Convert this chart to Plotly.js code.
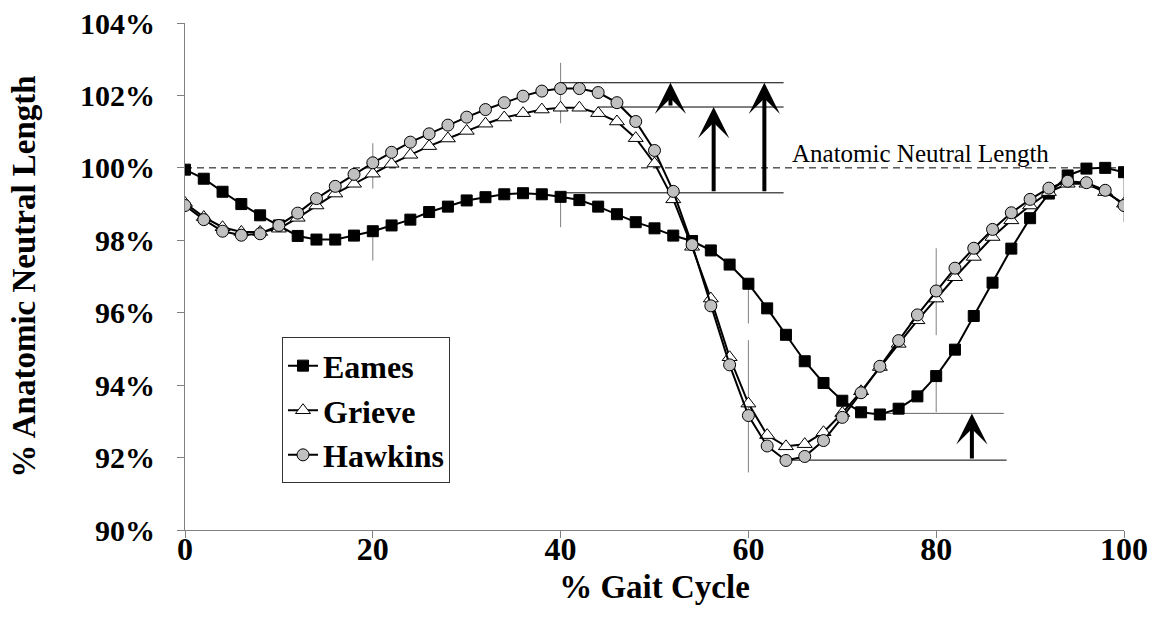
<!DOCTYPE html>
<html>
<head>
<meta charset="utf-8">
<script src="https://cdn.plot.ly/plotly-3.0.1.min.js"></script>
<style>html,body{margin:0;padding:0;background:#fff;}#chart{width:1155px;height:628px;}</style>
</head>
<body>
<div id="chart"></div>
<script>
// % gait cycle (every 2%)
const gait = [0,2,4,6,8,10,12,14,16,18,20,22,24,26,28,30,32,34,36,38,40,42,44,46,48,50,
  52,54,56,58,60,62,64,66,68,70,72,74,76,78,80,82,84,86,88,90,92,94,96,98,100];

// % anatomic neutral length
const eames = [99.95,99.70,99.34,99.00,98.69,98.41,98.12,98.02,98.02,98.13,98.25,98.41,98.57,98.78,98.93,99.10,
  99.19,99.27,99.30,99.27,99.20,99.11,98.93,98.72,98.50,98.33,98.13,97.98,97.72,97.33,96.80,96.12,95.39,94.66,
  94.06,93.57,93.25,93.19,93.35,93.69,94.25,94.98,95.91,96.83,97.77,98.61,99.29,99.79,99.98,100.00,99.88];
const grieve = [99.03,98.64,98.36,98.23,98.23,98.32,98.62,98.96,99.29,99.56,99.84,100.11,100.36,100.60,100.81,101.02,
  101.22,101.39,101.51,101.61,101.66,101.66,101.51,101.28,100.82,100.12,99.13,97.82,96.39,94.77,93.49,92.62,92.31,92.37,
  92.70,93.23,93.83,94.50,95.14,95.79,96.39,96.98,97.54,98.09,98.55,98.96,99.33,99.56,99.56,99.33,99.01];
const hawkins = [98.96,98.57,98.25,98.14,98.18,98.41,98.75,99.15,99.49,99.82,100.14,100.43,100.71,100.94,101.18,101.40,
  101.61,101.80,101.98,102.12,102.19,102.19,102.08,101.80,101.28,100.48,99.35,97.88,96.19,94.56,93.16,92.32,91.92,92.03,
  92.47,93.11,93.79,94.52,95.23,95.94,96.60,97.23,97.78,98.30,98.76,99.13,99.44,99.63,99.59,99.38,98.96];

// variability bars
const errX  = [20, 20, 40, 40, 60, 60, 80, 80, 100];
const errHi = [100.68, 98.25, 102.90, 99.20, 95.24, 96.80, 97.78, 94.25, 99.88];
const errLo = [99.43, 97.44, 101.23, 98.36, 91.59, 95.70, 95.38, 93.25, 98.50];

// reference level lines (peaks / minima)
const levelY  = [102.35, 101.68, 99.31, 93.22, 91.93];
const levelX0 = [40, 44, 40, 74, 64];
const levelX1 = [63.75, 63.75, 63.75, 87.2, 87.5];

// arrows between levels
const arrowX    = [51.7, 56.3, 61.7, 83.8];
const arrowFrom = [101.68, 99.31, 99.31, 91.93];
const arrowTo   = [102.35, 101.68, 102.35, 93.22];

const neutral = 100;
const neutralLabel = 'Anatomic Neutral Length';
const yTicks = [90, 92, 94, 96, 98, 100, 102, 104];
const xTicks = [0, 20, 40, 60, 80, 100];

const FONT = 'Liberation Serif, Times New Roman, serif';

const traces = [
  {x: gait, y: eames, name: 'Eames', mode: 'lines+markers', type: 'scatter',
   line: {color: '#000', width: 2},
   marker: {symbol: 'square', size: 11, color: '#000', line: {color: '#000', width: 1}}},
  {x: gait, y: grieve, name: 'Grieve', mode: 'lines+markers', type: 'scatter',
   line: {color: '#000', width: 2},
   marker: {symbol: 'triangle-up', size: 13, color: '#fff', line: {color: '#000', width: 1}}},
  {x: gait, y: hawkins, name: 'Hawkins', mode: 'lines+markers', type: 'scatter',
   line: {color: '#000', width: 2},
   marker: {symbol: 'circle', size: 12, color: '#c0c0c0', line: {color: '#000', width: 1}}}
];

const shapes = [];
shapes.push({type: 'line', xref: 'x', yref: 'y', x0: 0, x1: 100, y0: neutral, y1: neutral,
  line: {color: '#000', width: 1, dash: '7px,5px'}, layer: 'below'});
errX.forEach((x, i) => shapes.push({type: 'line', xref: 'x', yref: 'y', x0: x, x1: x, y0: errLo[i], y1: errHi[i],
  line: {color: '#808080', width: 1}, layer: 'below'}));
levelY.forEach((y, i) => shapes.push({type: 'line', xref: 'x', yref: 'y', x0: levelX0[i], x1: levelX1[i], y0: y, y1: y,
  line: {color: i === 3 ? '#666' : '#000', width: 1}, layer: 'below'}));

const annotations = arrowX.map((x, i) => ({
  x: x, y: arrowTo[i], ax: x, ay: arrowFrom[i], xref: 'x', yref: 'y', axref: 'x', ayref: 'y',
  text: '', showarrow: true, arrowhead: 3, arrowsize: 1.3, arrowwidth: 4, arrowcolor: '#000', standoff: 0
}));
annotations.push({x: 64.55, y: neutral, xref: 'x', yref: 'y', text: neutralLabel, showarrow: false,
  xanchor: 'left', yanchor: 'bottom', borderpad: 0, font: {family: FONT, size: 25, color: '#000'}});

const layout = {
  width: 1155, height: 628,
  margin: {l: 185, r: 31, t: 23, b: 98},
  paper_bgcolor: '#fff', plot_bgcolor: '#fff',
  showlegend: true,
  legend: {x: 0.1033, y: 0.380, xanchor: 'left', yanchor: 'top', bgcolor: '#fff',
    bordercolor: '#333', borderwidth: 1, font: {family: FONT, size: 32, color: '#000', weight: 'bold'},
    tracegroupgap: 0},
  xaxis: {range: [0, 100], tickvals: xTicks, ticktext: xTicks.map(String), showgrid: false, zeroline: false,
    showline: true, linecolor: '#808080', linewidth: 1, ticks: 'outside', ticklen: 7, tickcolor: '#808080',
    ticklabelstandoff: -16,
    tickfont: {family: FONT, size: 32, color: '#000', weight: 'bold'},
    title: {text: '% Gait Cycle', standoff: 8, font: {family: FONT, size: 33, color: '#000', weight: 'bold'}}},
  yaxis: {range: [90, 104], tickvals: yTicks, ticktext: yTicks.map(v => v + '%'), showgrid: false, zeroline: false,
    showline: true, linecolor: '#808080', linewidth: 1, ticks: 'outside', ticklen: 7, tickcolor: '#808080',
    ticklabelstandoff: 16,
    tickfont: {family: FONT, size: 30, color: '#000', weight: 'bold'},
    title: {text: '% Anatomic Neutral Length', standoff: 34, font: {family: FONT, size: 33, color: '#000', weight: 'bold'}}},
  shapes: shapes,
  annotations: annotations
};

Plotly.newPlot('chart', traces, layout, {staticPlot: true, displayModeBar: false});
</script>
</body>
</html>
